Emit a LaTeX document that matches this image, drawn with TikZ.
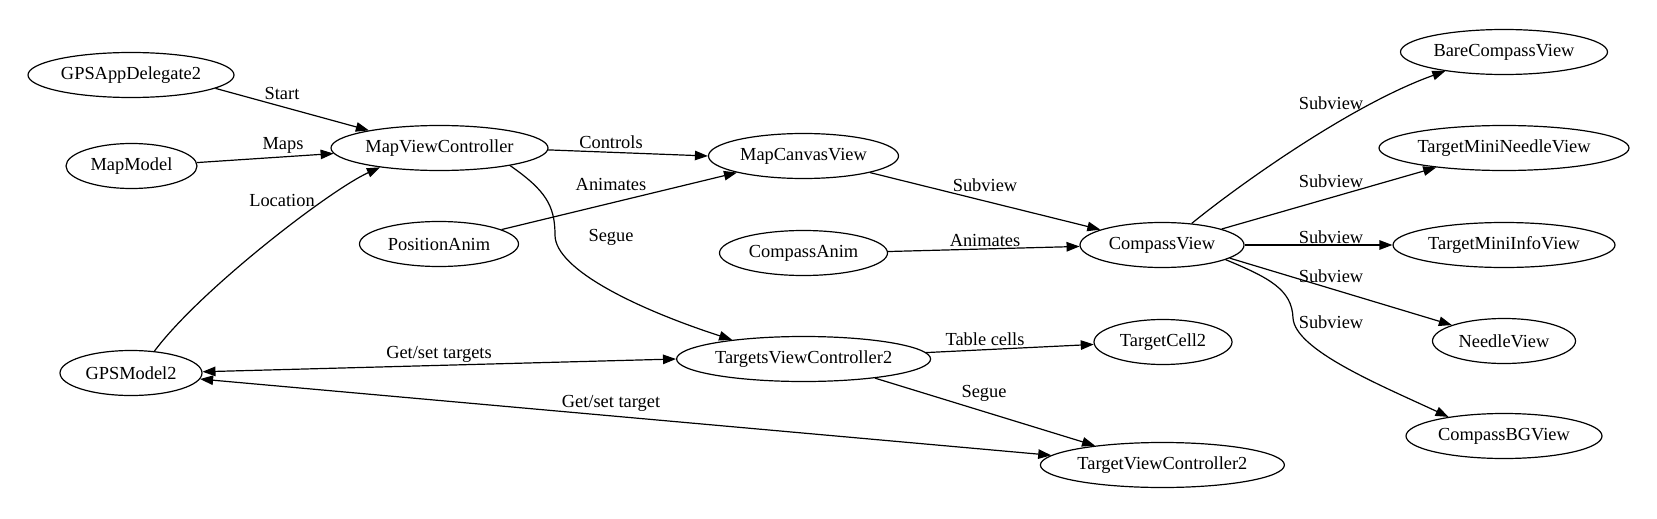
\documentclass[tikz,border=0pt]{standalone}
\usepackage{fontspec}
\setmainfont{Liberation Serif}
\usetikzlibrary{arrows.meta,shapes.geometric}
\begin{document}
\begin{tikzpicture}[x=1pt,y=-1pt,
  every node/.style={font=\fontsize{18.4}{22}\selectfont},
  nd/.style={draw, ellipse, line width=1.2pt, minimum height=45pt, inner sep=0pt},
  ed/.style={line width=1.2pt, -{Triangle[length=13pt,width=9.5pt]}},
  bi/.style={line width=1.2pt, {Triangle[length=13pt,width=9.5pt]}-{Triangle[length=13pt,width=9.5pt]}},
  lbl/.style={inner sep=0pt}]
\useasboundingbox (0,0) rectangle (1657,519);
% nodes
\node[nd, minimum width=206pt] (gad) at (131,75) {GPSAppDelegate2};
\node[nd, minimum width=131pt] (mm) at (131.5,166) {MapModel};
\node[nd, minimum width=217pt] (mvc) at (439.5,148) {MapViewController};
\node[nd, minimum width=159pt] (pa) at (439,244) {PositionAnim};
\node[nd, minimum width=142pt] (gm) at (131,373) {GPSModel2};
\node[nd, minimum width=190pt] (mcv) at (803.5,156) {MapCanvasView};
\node[nd, minimum width=168pt] (ca) at (803.5,253) {CompassAnim};
\node[nd, minimum width=164pt] (cv) at (1162,245) {CompassView};
\node[nd, minimum width=254pt] (tvcs) at (803.6,359) {TargetsViewController2};
\node[nd, minimum width=138pt] (tc) at (1163,342) {TargetCell2};
\node[nd, minimum width=244pt] (tvc) at (1162.4,465) {TargetViewController2};
\node[nd, minimum width=207pt] (bcv) at (1504,52) {BareCompassView};
\node[nd, minimum width=250pt] (tmn) at (1504,148) {TargetMiniNeedleView};
\node[nd, minimum width=222pt] (tmi) at (1504,245) {TargetMiniInfoView};
\node[nd, minimum width=143pt] (nv) at (1504,341) {NeedleView};
\node[nd, minimum width=196pt] (cbg) at (1504,436) {CompassBGView};
% edges
\draw[ed] (gad.-9.7) -- (mvc.166) node[lbl, at={(282,93)}] (l1) {Start};
\draw[ed] (mm.3.8) -- (mvc.183.2) node[lbl, at={(283,145)}] (l2) {Maps};
\draw[ed] (gm.43.9) .. controls (200,290) and (330,190) .. (mvc.198.8) node[lbl, at={(282,200)}] (l3) {Location};
\draw[ed] (mvc.-1) -- (mcv.180) node[lbl, at={(611,142)}] (l4) {Controls};
\draw[ed] (pa.13.3) -- (mcv.194.5) node[lbl, at={(611,184)}] (l5) {Animates};
\draw[ed] (mvc.-14.9) .. controls (545,190) and (555,205) .. (555,235) .. controls (555,270) and (640,310) .. (tvcs.165.6) node[lbl, at={(611,237)}] (l6) {Segue};
\draw[bi] (gm.1) -- (tvcs.180.5) node[lbl, at={(439,354)}] (l7) {Get/set targets};
\draw[bi] (gm.-5.7) -- (tvc.175.4) node[lbl, at={(611,403)}] (l8) {Get/set target};
\draw[ed] (mcv.-14.4) -- (cv.166) node[lbl, at={(985,185)}] (l9) {Subview};
\draw[ed] (ca.1.6) -- (cv.181.2) node[lbl, at={(985,240)}] (l10) {Animates};
\draw[ed] (tvcs.3.4) -- (tc.182.5) node[lbl, at={(985,339)}] (l11) {Table cells};
\draw[ed] (tvcs.-15.1) -- (tvc.164.5) node[lbl, at={(984,393)}] (l12) {Segue};
\draw[ed] (cv.36.9) .. controls (1235,188) and (1350,105) .. (bcv.198.7) node[lbl, at={(1331,103)}] (l13) {Subview};
\draw[ed] (cv.15.6) -- (tmn.196.3) node[lbl, at={(1331,181)}] (l14) {Subview};
\draw[ed] (cv.0) -- (tmi.180) node[lbl, at={(1331,237)}] (l15) {Subview};
\draw[ed] (cv.-11.7) -- (nv.163.8) node[lbl, at={(1331,276)}] (l16) {Subview};
\draw[ed] (cv.-13.6) .. controls (1270,278) and (1292,290) .. (1293,318) .. controls (1295,350) and (1380,385) .. (cbg.161.9) node[lbl, at={(1331,322)}] (l17) {Subview};
\end{tikzpicture}
\end{document}
